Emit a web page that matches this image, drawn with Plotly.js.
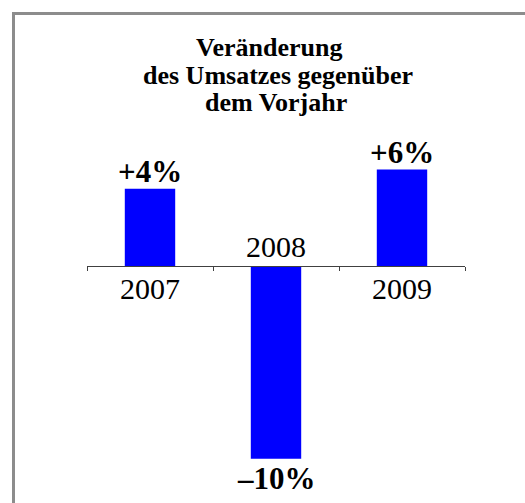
<!DOCTYPE html>
<html>
<head>
<meta charset="utf-8">
<script src="https://cdn.plot.ly/plotly-3.0.1.min.js"></script>
<style>
  html, body { margin: 0; padding: 0; background: #fff; }
  #wrap { position: relative; width: 525px; height: 503px; overflow: hidden; }
  #chart { width: 525px; height: 503px; }
  #frame { position: absolute; left: 12px; top: 12px; width: 700px; height: 700px;
           border: 3px solid #8c8c8c; box-sizing: border-box; pointer-events: none; }
</style>
</head>
<body>
<div id="wrap">
  <div id="chart"></div>
  <div id="frame"></div>
</div>
<script>
// ---- data ----
const years = ["2007", "2008", "2009"];
const values = [4, -10, 5];                  // bar heights as drawn in the picture
const valueLabels = ["+4%", "\u201310%", "+6%"];
const titleLines = ["Ver\u00e4nderung", "des Umsatzes gegen\u00fcber", "dem Vorjahr"];

const serif = "Liberation Serif, Times New Roman, serif";

const trace = {
  type: "bar",
  x: years,
  y: values,
  width: 0.4,
  marker: { color: "#0000ff", line: { width: 0 } },
  cliponaxis: false,
  hoverinfo: "none"
};

const titleX = [0.4815, 0.504, 0.5];
const titleY = [1.242, 1.16, 1.081];
const annotations = titleLines.map((t, i) => ({
  text: "<b>" + t + "</b>",
  xref: "paper", yref: "paper",
  x: titleX[i], y: titleY[i],
  xanchor: "center", yanchor: "middle",
  showarrow: false,
  font: { family: serif, size: 26, color: "#000" }
}));

years.forEach((yr, i) => {
  const pos = values[i] >= 0;
  // category label on the opposite side of the bar
  annotations.push({
    text: yr,
    xref: "x", yref: "y",
    x: i, y: 0,
    xanchor: "center",
    yanchor: pos ? "top" : "bottom",
    yshift: pos ? -4 : 1,
    showarrow: false,
    font: { family: serif, size: 30, color: "#000" }
  });
  // value label at the end of the bar
  annotations.push({
    text: "<b>" + valueLabels[i] + "</b>",
    xref: "x", yref: "y",
    x: i, y: values[i],
    xanchor: "center",
    yanchor: pos ? "bottom" : "top",
    yshift: pos ? -2 : 0,
    showarrow: false,
    font: { family: serif, size: 31, color: "#000" }
  });
});

const layout = {
  width: 525,
  height: 503,
  margin: { l: 87, r: 60, t: 131, b: 25, pad: 0 },
  paper_bgcolor: "#fff",
  plot_bgcolor: "#fff",
  showlegend: false,
  xaxis: {
    type: "category",
    range: [-0.5, 2.5],
    anchor: "free",
    position: 11 / 18,
    showline: true,
    linecolor: "#404040",
    linewidth: 1,
    ticks: "outside",
    tickson: "boundaries",
    ticklen: 4,
    tickcolor: "#404040",
    showticklabels: false,
    showgrid: false,
    zeroline: false,
    fixedrange: true
  },
  yaxis: {
    range: [-11, 7],
    showticklabels: false,
    showline: false,
    ticks: "",
    showgrid: false,
    zeroline: false,
    fixedrange: true
  },
  annotations: annotations
};

Plotly.newPlot("chart", [trace], layout, { displayModeBar: false, staticPlot: true });
</script>
</body>
</html>
